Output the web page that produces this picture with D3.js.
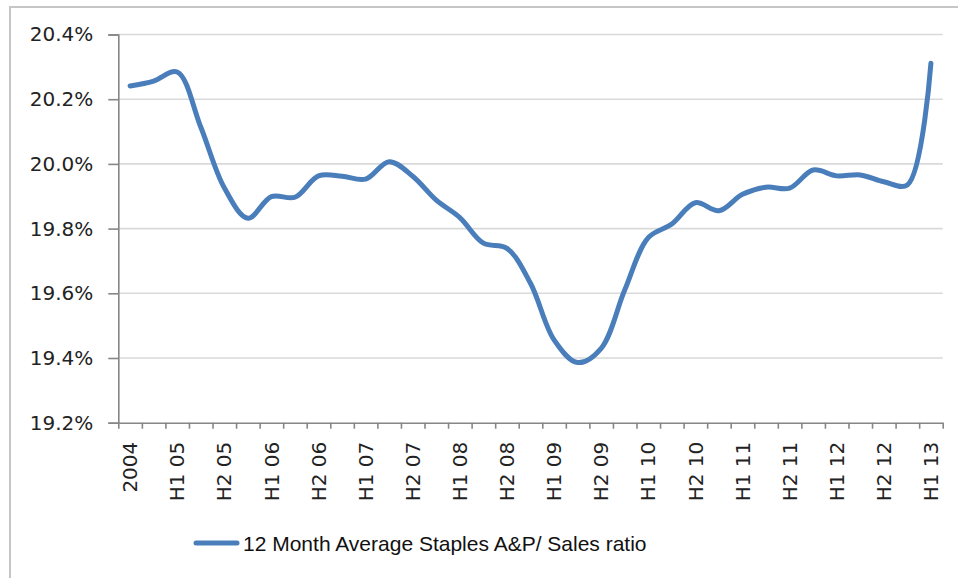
<!DOCTYPE html>
<html>
<head>
<meta charset="utf-8">
<script src="https://cdn.jsdelivr.net/npm/d3@7"></script>
<style>
  html, body { margin: 0; padding: 0; background: #fff; }
  svg { display: block; }
</style>
</head>
<body>
<svg id="chart" width="958" height="578"></svg>
<script>
// ---- data ----
const categories = ["2004","","H1 05","","H2 05","","H1 06","","H2 06","","H1 07","","H2 07","","H1 08","","H2 08","","H1 09","","H2 09","","H1 10","","H2 10","","H1 11","","H2 11","","H1 12","","H2 12","","H1 13"];
const ratioValues = [20.241,20.256,20.284,20.114,19.926,19.832,19.899,19.897,19.963,19.962,19.953,20.007,19.962,19.888,19.834,19.755,19.739,19.631,19.456,19.386,19.430,19.610,19.772,19.814,19.880,19.855,19.906,19.928,19.925,19.981,19.963,19.966,19.945,19.935,20.311];
const yTicks = [19.2,19.4,19.6,19.8,20.0,20.2,20.4];
const seriesName = "12 Month Average Staples A&P/ Sales ratio";

// ---- layout ----
const svg = d3.select("#chart");
const mLeft = 118.3, mRight = 942.7, mTop = 34.5, mBottom = 422.7;
const idx = d3.range(categories.length);

// chart area border
svg.append("rect").attr("x", 10).attr("y", 7).attr("width", 960).attr("height", 580)
  .attr("fill", "none").attr("stroke", "#c6c6c6").attr("stroke-width", 2);

const x = d3.scaleBand().domain(idx).range([mLeft, mRight]).padding(0);
const xEdge = d3.scaleLinear().domain([0, categories.length]).range([mLeft, mRight]);
const y = d3.scaleLinear().domain([19.2, 20.4]).range([mBottom, mTop]);

// gridlines
svg.append("g").selectAll("line").data(yTicks.filter(d => d > 19.2)).join("line")
  .attr("x1", mLeft).attr("x2", mRight)
  .attr("y1", d => y(d)).attr("y2", d => y(d))
  .attr("stroke", "#d9d9d9").attr("stroke-width", 1.6);

// y axis
const yAxis = svg.append("g").attr("transform", `translate(${mLeft},0)`)
  .call(d3.axisLeft(y).tickValues(yTicks).tickSize(10).tickPadding(15)
    .tickFormat(d => d.toFixed(1) + "%"));
yAxis.select(".domain").attr("stroke", "#868686").attr("stroke-width", 1.6);
yAxis.selectAll(".tick line").attr("stroke", "#868686").attr("stroke-width", 1.6);
yAxis.selectAll(".tick text").attr("font-family", "DejaVu Sans").attr("font-size", 20)
  .attr("fill", "#222");

// x axis tick marks (between categories)
const xTicksAxis = svg.append("g").attr("transform", `translate(0,${mBottom})`)
  .call(d3.axisBottom(xEdge).tickValues(d3.range(categories.length + 1)).tickSize(6)
    .tickSizeOuter(0).tickFormat(""));
xTicksAxis.select(".domain").attr("stroke", "#868686").attr("stroke-width", 1.6);
xTicksAxis.selectAll(".tick line").attr("stroke", "#868686").attr("stroke-width", 1.6);

// x axis labels
const xLab = svg.append("g").attr("transform", `translate(0,${mBottom})`)
  .call(d3.axisBottom(x).tickSize(0).tickFormat(i => categories[i]));
xLab.select(".domain").remove();
xLab.selectAll(".tick text")
  .attr("font-family", "DejaVu Sans").attr("font-size", 20).attr("fill", "#222")
  .attr("transform", "rotate(-90)")
  .attr("text-anchor", "end")
  .attr("x", -19).attr("y", 0).attr("dy", "0.36em");

// line
const line = d3.line()
  .x((d, i) => x(i) + x.bandwidth() / 2)
  .y(d => y(d))
  .curve(d3.curveCatmullRom.alpha(0.5));
svg.append("path").datum(ratioValues)
  .attr("d", line).attr("fill", "none")
  .attr("stroke", "#4a7ebb").attr("stroke-width", 5)
  .attr("stroke-linecap", "round").attr("stroke-linejoin", "round");

// legend
const lg = svg.append("g");
lg.append("line").attr("x1", 196).attr("x2", 237).attr("y1", 543).attr("y2", 543)
  .attr("stroke", "#4a7ebb").attr("stroke-width", 5).attr("stroke-linecap", "round");
lg.append("text").attr("x", 243).attr("y", 550.5)
  .attr("font-family", "Liberation Sans").attr("font-size", 21).attr("fill", "#111")
  .text(seriesName);
</script>
</body>
</html>
